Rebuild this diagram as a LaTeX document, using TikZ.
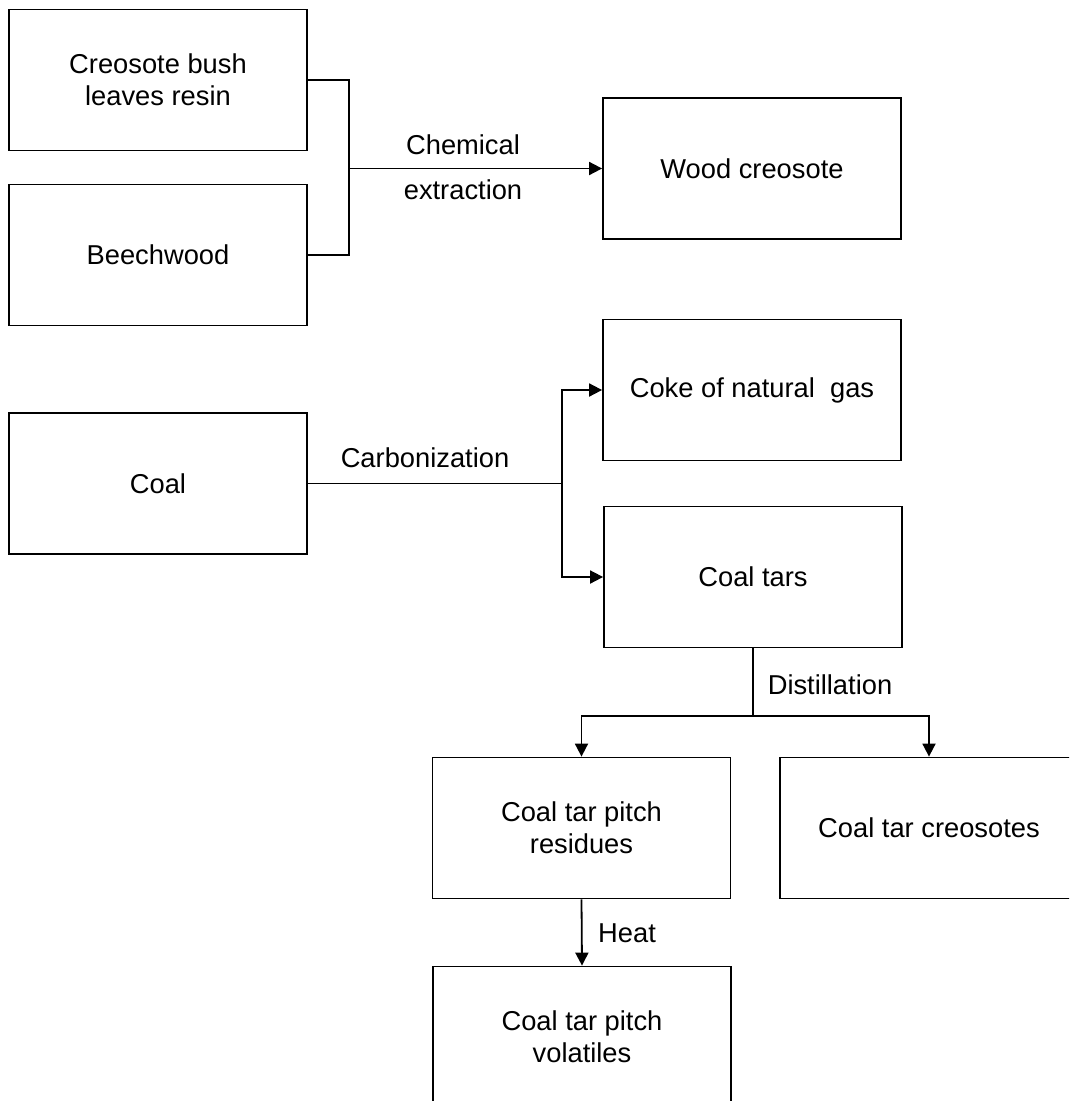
\documentclass[tikz,border=0pt]{standalone}
\usepackage{fontspec}
\setmainfont{Liberation Sans}
\usetikzlibrary{arrows.meta,positioning}

\newcommand{\flowfont}{\fontsize{27.3}{32}\selectfont}

\tikzset{
  stage/.style={draw, line width=1.8pt, rectangle, align=center,
    minimum width=298pt, minimum height=141pt, inner sep=0pt, font=\flowfont},
  link/.style={line width=1.8pt},
  arr/.style={link, -{Triangle[length=13pt,width=13pt]}},
  proc/.style={font=\flowfont, inner sep=0pt}
}

\begin{document}
\begin{tikzpicture}[x=1pt,y=-1pt]
    \path[use as bounding box, clip] (0,0) rectangle (1069,1101);
    \fill[white] (0,0) rectangle (1069,1101);

    % sources of wood creosote
    \node[stage] (resin) at (158,80) {Creosote bush\\leaves resin};
    \node[stage] (beech) at (158,255) {Beechwood};
    \node[stage] (wood) at (752,168.5) {Wood creosote};

    % coal route
    \node[stage] (coal) at (158,483.5) {Coal};
    \node[stage] (coke) at (752,390) {Coke of natural\ \ gas};
    \node[stage] (tars) at (753,577) {Coal tars};
    \node[stage] (residues) at (581.5,828) {Coal tar pitch\\residues};
    \node[stage] (creosotes) at (929,828) {Coal tar creosotes};
    \node[stage] (volatiles) at (582,1037) {Coal tar pitch\\volatiles};

    \coordinate (join) at (349,168.5);
    \coordinate (split) at (562,483.5);
    \coordinate (dist) at (753,716);

    \draw[link] (resin.east) -| (join) |- (beech.east);
    \draw[arr] (join) -- (wood.west);
    \node[proc, align=center, font=\fontsize{27.3}{45}\selectfont] (chem) at (463,167.5) {Chemical\\extraction};

    \draw[link] (coal.east) -- (split);
    \draw[arr] (split) |- (coke.west);
    \draw[arr] (split) |- (tars.west);
    \node[proc] (carb) at (425,458) {Carbonization};

    \draw[link] (tars.south) -- (dist);
    \draw[arr] (dist) -| (residues.north);
    \draw[arr] (dist) -| (creosotes.north);
    \node[proc] (distil) at (830,685) {Distillation};

    \draw[arr] (residues.south) -- (volatiles.north);
    \node[proc, anchor=west] (heat) at (598,933) {Heat};
\end{tikzpicture}
\end{document}
